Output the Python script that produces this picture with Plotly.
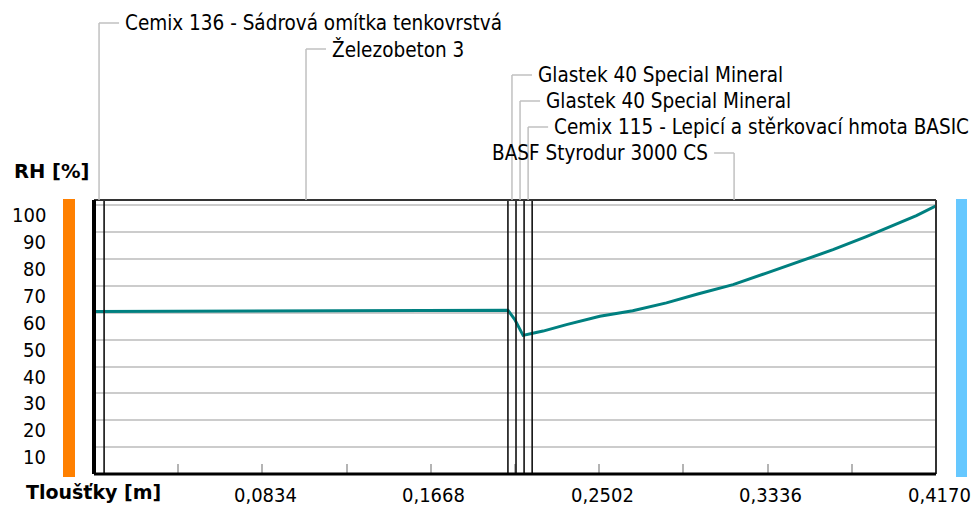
import plotly.graph_objects as go

# ---------------- data ----------------
layer_names = [
    "Cemix 136 - Sádrová omítka tenkovrstvá",
    "Železobeton 3",
    "Glastek 40 Special Mineral",
    "Glastek 40 Special Mineral",
    "Cemix 115 - Lepicí a stěrkovací hmota BASIC",
    "BASF Styrodur 3000 CS",
]
layer_thickness_m = [0.005, 0.2, 0.004, 0.004, 0.004, 0.2]
label_side = ["right", "right", "right", "right", "right", "left"]

position_m = [0.0, 0.09, 0.205, 0.2084, 0.2109, 0.2125, 0.2167, 0.2224, 0.234,
              0.2505, 0.2668, 0.2835, 0.299, 0.3165, 0.333, 0.3495, 0.366,
              0.3825, 0.3957, 0.4073, 0.417]
rh_percent = [60.5, 60.7, 61.0, 57.5, 53.8, 51.6, 52.3, 53.2, 55.6,
              58.7, 60.8, 63.7, 67.0, 70.5, 74.8, 79.1, 83.5,
              88.4, 92.6, 96.2, 99.8]

x_tick_values = [0.0834, 0.1668, 0.2502, 0.3336, 0.4170]
x_tick_labels = ["0,0834", "0,1668", "0,2502", "0,3336", "0,4170"]
y_tick_values = [10, 20, 30, 40, 50, 60, 70, 80, 90, 100]
y_tick_labels = ["10", "20", "30", "40", "50", "60", "70", "80", "90", "100"]

# ---------------- geometry / style ----------------
W, H = 978, 506
L, R, T, B = 94, 936, 200, 474
NARROW = "DejaVu Sans Condensed, Liberation Sans Narrow, sans-serif"
BOLD = "DejaVu Sans, Verdana, sans-serif"


def px_x(px):
    return (px - L) / (R - L)


def px_y(py):
    return (B - py) / (B - T)


total = sum(layer_thickness_m)
bounds = [0.0]
for t in layer_thickness_m:
    bounds.append(bounds[-1] + t)

fig = go.Figure()
fig.add_trace(go.Scatter(
    x=position_m, y=rh_percent, mode="lines",
    line=dict(color="#008080", width=3), hoverinfo="skip", showlegend=False,
))

shapes = []
# side colour bars
shapes.append(dict(type="rect", xref="paper", yref="paper",
                   x0=px_x(63), x1=px_x(75), y0=px_y(477), y1=px_y(199),
                   fillcolor="#ff8000", line=dict(width=0), layer="above"))
shapes.append(dict(type="rect", xref="paper", yref="paper",
                   x0=px_x(956), x1=px_x(967), y0=px_y(477), y1=px_y(199),
                   fillcolor="#66c8ff", line=dict(width=0), layer="above"))

# layer boundaries
for b in bounds[1:-1]:
    shapes.append(dict(type="line", xref="x", yref="paper", x0=b, x1=b, y0=0, y1=1,
                       line=dict(color="#111111", width=1.6), layer="above"))

# frame
shapes.append(dict(type="line", xref="paper", yref="paper", x0=0, x1=1, y0=1, y1=1,
                   line=dict(color="#333333", width=2), layer="above"))
shapes.append(dict(type="line", xref="paper", yref="paper", x0=1, x1=1, y0=0, y1=1,
                   line=dict(color="#333333", width=2), layer="above"))
shapes.append(dict(type="line", xref="paper", yref="paper", x0=0, x1=0, y0=0, y1=1,
                   line=dict(color="#000000", width=4), layer="above"))
shapes.append(dict(type="line", xref="paper", yref="paper", x0=0, x1=1, y0=0, y1=0,
                   line=dict(color="#000000", width=3), layer="above"))

annotations = []
# layer labels with leader lines
for i, name in enumerate(layer_names):
    mid = bounds[i] + layer_thickness_m[i] / 2
    py = 23 + 26 * i
    yp = px_y(py)
    shapes.append(dict(type="line", xref="x", yref="paper", x0=mid, x1=mid, y0=1, y1=yp,
                       line=dict(color="#c0c0c0", width=1.5)))
    sign = 1 if label_side[i] == "right" else -1
    shapes.append(dict(type="line", xref="x", yref="paper", xsizemode="pixel", xanchor=mid,
                       x0=0, x1=20 * sign, y0=yp, y1=yp,
                       line=dict(color="#c0c0c0", width=1.5)))
    annotations.append(dict(x=mid, y=yp, xref="x", yref="paper", text=name,
                            showarrow=False, xanchor="left" if sign > 0 else "right",
                            yanchor="middle", xshift=24 * sign,
                            font=dict(family=NARROW, size=20.5, color="black")))

# tick labels (positions from the axes' own scales)
for v, txt in zip(y_tick_values, y_tick_labels):
    annotations.append(dict(x=px_x(48), y=v, xref="paper", yref="y", text=txt,
                            showarrow=False, xanchor="right", yanchor="middle", yshift=-10,
                            font=dict(family=NARROW, size=20, color="black")))
for v, txt in zip(x_tick_values, x_tick_labels):
    annotations.append(dict(x=v, y=px_y(495), xref="x", yref="paper", text=txt,
                            showarrow=False, xanchor="center", yanchor="middle", xshift=3,
                            font=dict(family=NARROW, size=20, color="black")))

# axis titles
annotations.append(dict(x=px_x(12), y=px_y(172), xref="paper", yref="paper", text="<b>RH [%]</b>",
                        showarrow=False, xanchor="left", yanchor="middle",
                        font=dict(family=BOLD, size=19.5, color="black")))
annotations.append(dict(x=px_x(24), y=px_y(492), xref="paper", yref="paper", text="<b>Tloušťky [m]</b>",
                        showarrow=False, xanchor="left", yanchor="middle",
                        font=dict(family=BOLD, size=19, color="black")))

fig.update_layout(
    width=W, height=H,
    margin=dict(l=L, r=W - R, t=T, b=H - B, pad=0, autoexpand=False),
    paper_bgcolor="white", plot_bgcolor="white",
    showlegend=False,
    shapes=shapes, annotations=annotations,
    xaxis=dict(range=[0, total], showgrid=False, zeroline=False, showline=False,
               automargin=False, showticklabels=False, fixedrange=True,
               tickvals=x_tick_values,
               ticks="inside", ticklen=10, tickwidth=1.5, tickcolor="#b4b4b4",
               minor=dict(tickvals=[v - 0.0417 for v in x_tick_values], ticks="inside",
                          ticklen=10, tickwidth=1.5, tickcolor="#b4b4b4")),
    yaxis=dict(range=[0, 102], showgrid=True, gridcolor="#cccccc", gridwidth=2,
               zeroline=False, showline=False, automargin=False, fixedrange=True,
               tickvals=y_tick_values, ticks="", showticklabels=False),
)

fig.write_html("out.html", config={"displayModeBar": False},
               post_script="document.body.style.margin='0';document.body.style.overflow='hidden';")
